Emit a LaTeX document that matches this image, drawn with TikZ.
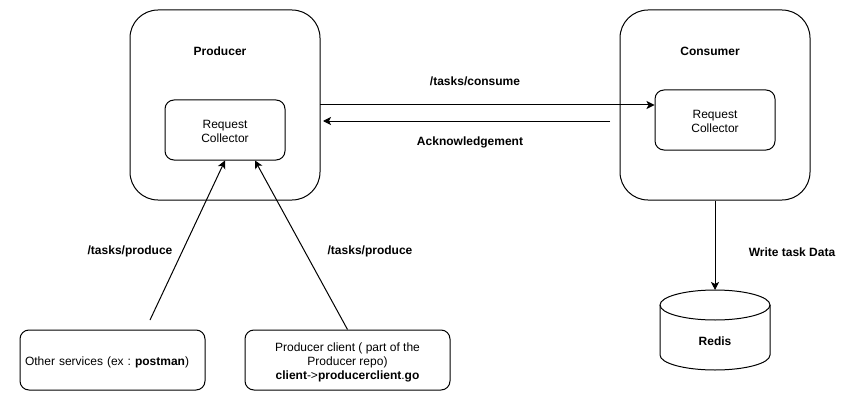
\documentclass[tikz,border=0pt]{standalone}
\usepackage{fontspec}
\setmainfont{Liberation Sans}
\usetikzlibrary{arrows.meta}
\newcommand{\labelfont}{\fontsize{12}{14}\selectfont}
\tikzset{
  service/.style={draw,rounded corners=28pt,minimum width=190pt,minimum height=190pt},
  collector/.style={draw,rounded corners=9pt,minimum width=120pt,minimum height=60pt,align=center},
  caller/.style={draw,rounded corners=9pt,minimum height=60pt},
  title/.style={font=\labelfont\bfseries},
  flow/.style={line width=1pt,-{Stealth[length=8pt,width=8pt,inset=2pt]}}
}
\begin{document}
\begin{tikzpicture}[x=1pt,y=-1pt,line width=1pt,every node/.append style={font=\labelfont,inner sep=0pt}]
  \useasboundingbox (0,0) rectangle (861,401);
  \node[service] (producer) at (225,105) {};
  \node[service] (consumer) at (715,105) {};
  \node[collector] (producerRC) at (225,130) {\rule{0pt}{11pt}Request\\Collector};
  \node[collector] (consumerRC) at (715,120) {\rule{0pt}{11pt}Request\\Collector};
  \node[caller,minimum width=185pt,text width=175pt,align=left] (other) at (112.5,360) {\rule{0pt}{14pt}Other services (ex :\hspace{-2pt} \textbf{postman})};
  \node[caller,minimum width=205pt,align=center] (client) at (347.5,360) {\rule{0pt}{14pt}Producer client ( part of the\\Producer repo)\\\textbf{client}-\textgreater\textbf{producerclient}.\textbf{go}};
  \draw (660,305) -- (660,355) .. controls (660,363.3) and (684.6,370) .. (715,370) .. controls (745.4,370) and (770,363.3) .. (770,355) -- (770,305);
  \draw (715,305) ellipse [x radius=55,y radius=15];
  \coordinate (redisTop) at (715,290);
  \node[title] (redisTitle) at (715,341) {Redis};
  \node[title] (producerTitle) at (220,51) {Producer};
  \node[title] (consumerTitle) at (710,51) {Consumer};
  \node[title] (consumeLabel) at (475,81) {/tasks/consume};
  \node[title] (ackLabel) at (470,142) {Acknowledgement};
  \node[title] (produceLeft) at (130,251) {/tasks/produce};
  \node[title] (produceRight) at (370,251) {/tasks/produce};
  \node[title] (writeLabel) at (792,252) {Write task Data};
  \coordinate (consumeStart) at (320,105);
  \coordinate (ackStart) at (610,121);
  \coordinate (ackEnd) at (323,121);
  \coordinate (otherStart) at (150,320);
  \draw[flow] (consumeStart) -- (consumeStart -| consumerRC.west);
  \draw[flow] (ackStart) -- (ackEnd);
  \draw[flow] (otherStart) -- (producerRC.south);
  \draw[flow] (client.north) -- ([xshift=30pt]producerRC.south);
  \draw[flow] (consumer.south) -- (redisTop);
\end{tikzpicture}
\end{document}
